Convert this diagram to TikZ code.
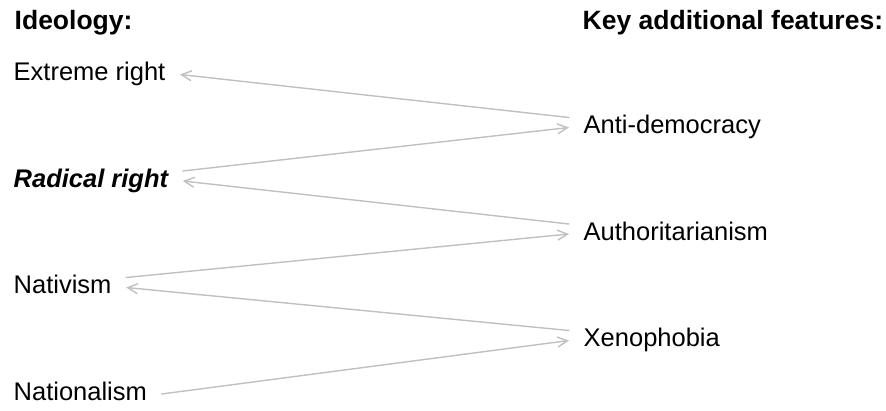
\documentclass[tikz,border=0pt]{standalone}
\usepackage{fontspec}
\setmainfont{Liberation Sans}
\usetikzlibrary{arrows.meta}
\definecolor{linegray}{RGB}{192,192,192}

\begin{document}
\begin{tikzpicture}[
	x=1pt,
	y=-1pt,
	>={Straight Barb[length=10pt,width=10pt]},
	line width=1.4pt,
	line cap=round,
	line join=round,
	term/.style={anchor=base west,inner xsep=14pt,inner ysep=0pt,text height=13pt,text depth=0pt,font=\fontsize{25.5}{30}\selectfont},
	head/.style={term,font=\fontsize{26.5}{30}\selectfont\bfseries}
	]
	\useasboundingbox (0,0) rectangle (886,411);
	\node[head] (ideo) at (0,30) {Ideology:};
	\node[head] (feat) at (568,30) {Key additional features:};
	\node[term] (ext) at (-1,81) {Extreme right};
	\node[term,font=\fontsize{25.5}{30}\selectfont\bfseries\itshape] (rad) at (-1,187.5) {Radical right};
	\node[term] (nativ) at (-1,294) {Nativism};
	\node[term] (nation) at (-1,400.5) {Nationalism};
	\node[term] (anti) at (569,134) {Anti-democracy};
	\node[term] (auth) at (569,240.5) {Authoritarianism};
	\node[term] (xeno) at (569,347) {Xenophobia};
	\begin{scope}[->,draw=linegray]
		\draw ([yshift=10pt]anti.west) -- (ext.east);
		\draw ([yshift=10pt]rad.east) -- (anti.west);
		\draw ([yshift=10pt]auth.west) -- (rad.east);
		\draw ([yshift=10pt]nativ.east) -- (auth.west);
		\draw ([yshift=10pt]xeno.west) -- (nativ.east);
		\draw (nation.east) -- (xeno.west);
	\end{scope}
\end{tikzpicture}
\end{document}
